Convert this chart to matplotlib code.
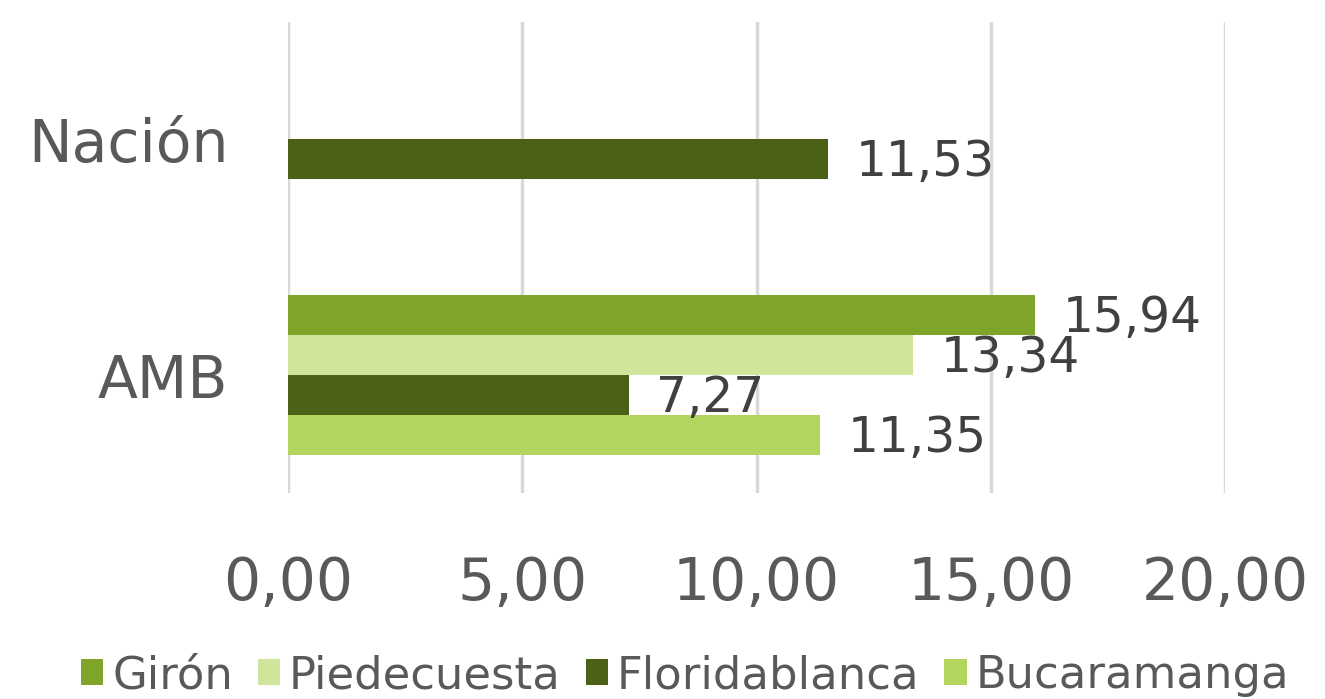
import numpy as np
import matplotlib.pyplot as plt

plt.rcParams['font.family'] = ['DejaVu Sans']

categorias = ['AMB', 'Nación']
series = ['Girón', 'Piedecuesta', 'Floridablanca', 'Bucaramanga']
giron = [15.94, np.nan]
piedecuesta = [13.34, np.nan]
floridablanca = [7.27, 11.53]
bucaramanga = [11.35, np.nan]
colores = ['#7FA42A', '#CFE59B', '#4A6117', '#B2D65D']
ticks_x = [0, 5, 10, 15, 20]

valores = [giron, piedecuesta, floridablanca, bucaramanga]
gris = '#595959'

fig = plt.figure(figsize=(13.25, 6.99), dpi=100)
ax = fig.add_axes([0.2174, 0.295, 0.7071, 0.674])

alto = 0.17
offsets = [1.5, 0.5, -0.5, -1.5]
y = np.arange(len(categorias))
for nombre, vals, col, off in zip(series, valores, colores, offsets):
    pos = y + off * alto
    ax.barh(pos, vals, height=alto, color=col, label=nombre, zorder=3)
    for yy, v in zip(pos, vals):
        if np.isnan(v):
            continue
        ax.annotate(f'{v:.2f}'.replace('.', ','), (v, yy), xytext=(20, -2),
                    textcoords='offset points', va='center', ha='left',
                    fontsize=35, color='#404040', zorder=4)

ax.set_xlim(0, 20)
ax.set_ylim(-0.5, 1.5)
ax.set_xticks(ticks_x)
ax.set_xticklabels([f'{t:.2f}'.replace('.', ',') for t in ticks_x])
ax.set_yticks(y)
ax.set_yticklabels(categorias)
ax.tick_params(axis='x', length=0, pad=45, labelsize=42, labelcolor=gris)
ax.tick_params(axis='y', length=0, pad=43, labelsize=42, labelcolor=gris)
ax.grid(axis='x', color='#D9D9D9', linewidth=2.5, zorder=0)
for s in ax.spines.values():
    s.set_visible(False)

leg = fig.legend(loc='lower center', bbox_to_anchor=(0.517, -0.055), ncol=4,
                 frameon=False, fontsize=32.3, handlelength=0.5, handleheight=0.5,
                 handletextpad=0.2, columnspacing=0.55)
for t in leg.get_texts():
    t.set_color(gris)

fig.savefig('out.png', dpi=100)
